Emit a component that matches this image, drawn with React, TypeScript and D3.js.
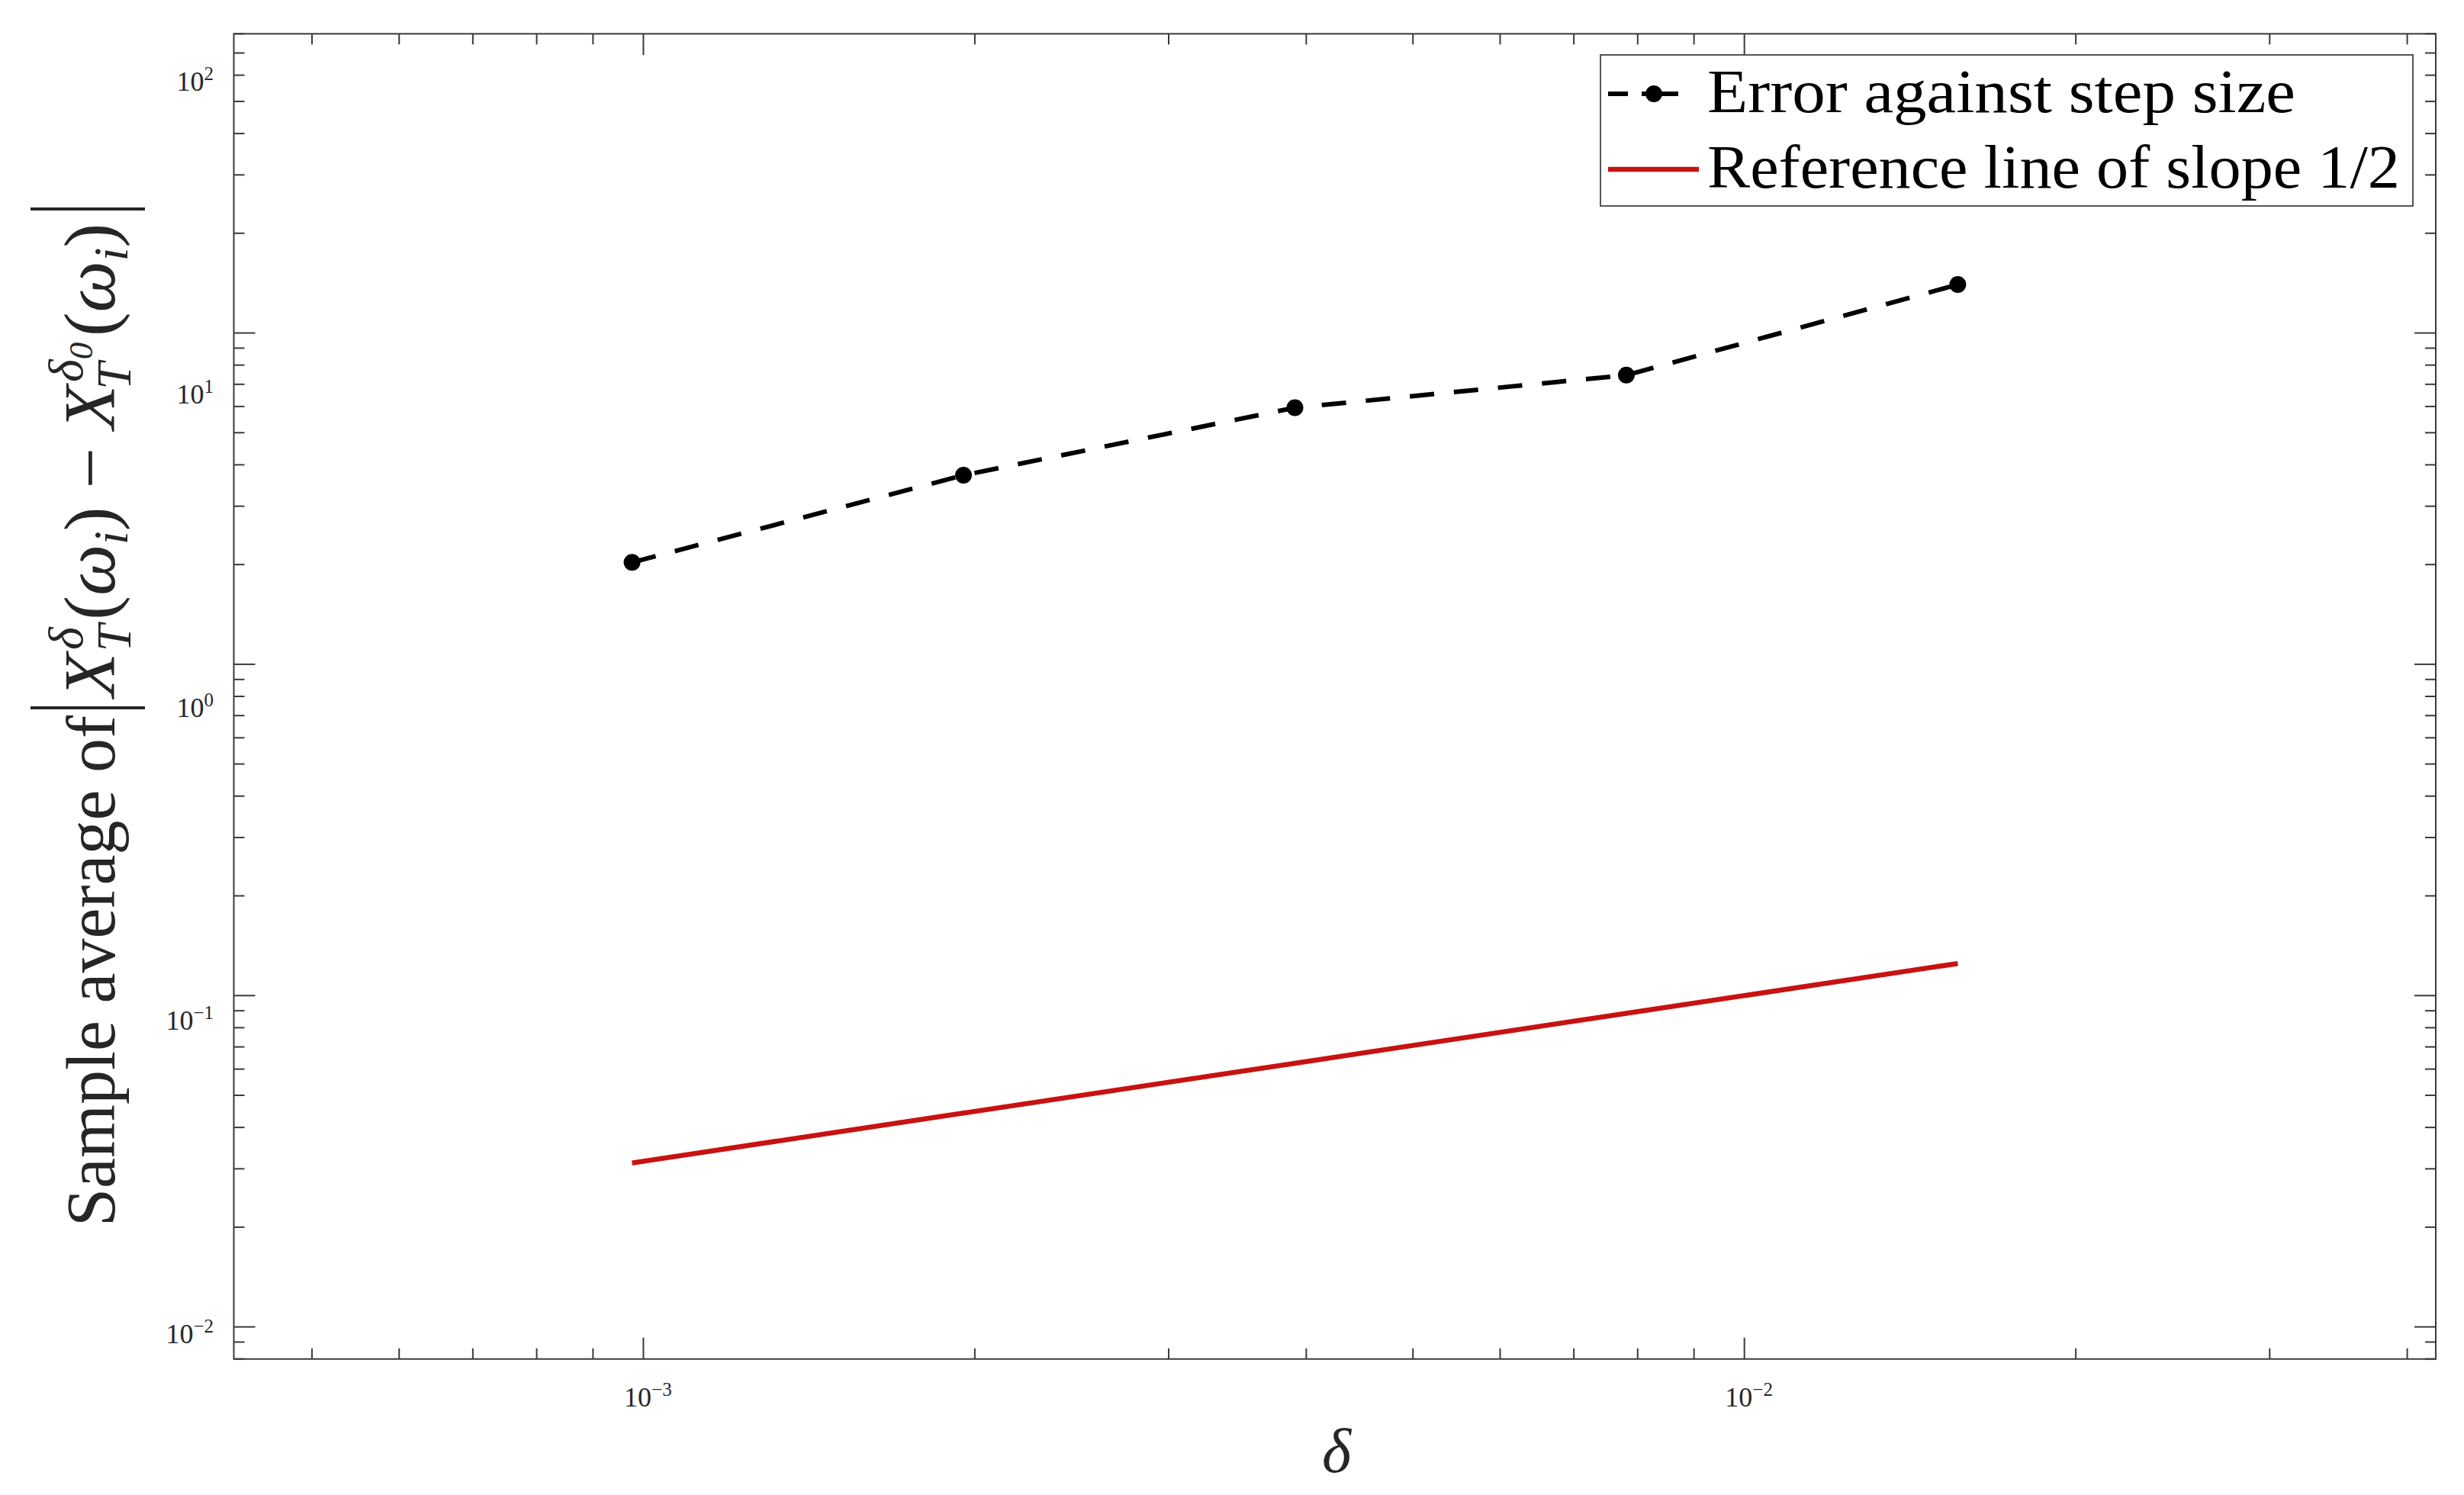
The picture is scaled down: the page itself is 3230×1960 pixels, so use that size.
import React from "react";
import * as d3 from "d3";

// ---- data ----
const stepSizes = [0.0009765625, 0.001953125, 0.00390625, 0.0078125, 0.015625];
const errorValues = [2.03, 3.72, 5.95, 7.46, 14.0];
const referenceValues = [0.03125, 0.0442, 0.0625, 0.0884, 0.125];
const xTickExponents = [-3, -2];
const yTickExponents = [-2, -1, 0, 1, 2];
const legendLabels = ["Error against step size", "Reference line of slope 1/2"];
const xDomain = [4.246e-4, 4.246e-2];
const yDomain = [0.008, 80];

// ---- layout ----
const W = 3230;
const H = 1960;
const M = { left: 306.5, right: 3193, top: 44.3, bottom: 1781.7 };
const AXIS = "#3a3a3a";
const TXT = "#262626";
const RED = "#c81212";
const SERIF = "'Liberation Serif', 'DejaVu Serif', serif";

export default function App() {
  const x = d3.scaleLog().domain(xDomain).range([M.left, M.right]);
  const y = d3.scaleLog().domain(yDomain).range([M.bottom, M.top]);
  // tick-label placement scale (labels are spread slightly differently from ticks in the reference)
  const yLab = d3
    .scaleLog()
    .domain([1e-2, 1e2])
    .range([y(1e-2), y(1e-2) - 1642]);

  const isMajor = (v: number) => Math.abs(Math.log10(v) - Math.round(Math.log10(v))) < 1e-9;
  const xt = x.ticks();
  const yt = y.ticks();

  const errLine = d3
    .line<number>()
    .x((_, i) => x(stepSizes[i]))
    .y((d) => y(d));
  const refLine = d3
    .line<number>()
    .x((_, i) => x(stepSizes[i]))
    .y((d) => y(d));

  const majorLen = 28;
  const minorLen = 14;

  const legX = 2098;
  const legY = 72;
  const legW = 1065;
  const legH = 198;
  const row1 = 123;
  const row2 = 222;

  const mf = 95; // math font size
  const ms = 64; // math script size

  return (
    <svg
      width={W}
      height={H}
      style={{ position: "absolute", left: 0, top: 0, background: "#fff" }}
      fontFamily={SERIF}
    >
      <rect x={0} y={0} width={W} height={H} fill="#fff" />

      {/* ticks */}
      <g stroke={AXIS} strokeWidth={2}>
        {xt.map((t, i) => {
          const L = isMajor(t) ? majorLen : minorLen;
          const px = x(t);
          return (
            <g key={"xt" + i}>
              <line x1={px} x2={px} y1={M.bottom} y2={M.bottom - L} />
              <line x1={px} x2={px} y1={M.top} y2={M.top + L} />
            </g>
          );
        })}
        {yt.map((t, i) => {
          const L = isMajor(t) ? majorLen : minorLen;
          const py = y(t);
          return (
            <g key={"yt" + i}>
              <line x1={M.left} x2={M.left + L} y1={py} y2={py} />
              <line x1={M.right} x2={M.right - L} y1={py} y2={py} />
            </g>
          );
        })}
      </g>

      {/* axes box */}
      <rect
        x={M.left}
        y={M.top}
        width={M.right - M.left}
        height={M.bottom - M.top}
        fill="none"
        stroke={AXIS}
        strokeWidth={2}
      />

      {/* x tick labels */}
      {xTickExponents.map((e) => (
        <text
          key={"xl" + e}
          x={x(Math.pow(10, e)) + 6}
          y={1844}
          fontSize={36}
          fill={TXT}
          textAnchor="middle"
        >
          10
          <tspan fontSize={25} dy={-14}>
            {"\u2212" + Math.abs(e)}
          </tspan>
        </text>
      ))}

      {/* y tick labels */}
      {yTickExponents.map((e) => (
        <text
          key={"yl" + e}
          x={280}
          y={yLab(Math.pow(10, e)) + 21}
          fontSize={36}
          fill={TXT}
          textAnchor="end"
        >
          10
          <tspan fontSize={25} dy={-14}>
            {e < 0 ? "\u2212" + Math.abs(e) : String(e)}
          </tspan>
        </text>
      ))}

      {/* reference line */}
      <path d={refLine(referenceValues) || ""} fill="none" stroke={RED} strokeWidth={6.5} />

      {/* error line */}
      <path
        d={errLine(errorValues) || ""}
        fill="none"
        stroke="#000"
        strokeWidth={6}
        strokeDasharray="32 26"
      />
      {errorValues.map((v, i) => (
        <circle key={"p" + i} cx={x(stepSizes[i])} cy={y(v)} r={11} fill="#000" />
      ))}

      {/* x label */}
      <text x={1752} y={1930} fontSize={82} fontStyle="italic" textAnchor="middle" fill={TXT}>
        δ
      </text>

      {/* y label */}
      <g transform="translate(150,1608) rotate(-90)" fill={TXT}>
        <text x={0} y={0} fontSize={90} textLength={670} lengthAdjust="spacingAndGlyphs">
          Sample average of
        </text>
        <line x1={680} x2={680} y1={-110} y2={40} stroke={TXT} strokeWidth={4} />
        <text x={694} y={0} fontSize={mf} fontStyle="italic">
          X
          <tspan fontSize={ms} dy={-42} dx={4}>δ</tspan>
          <tspan fontSize={ms} dy={63} dx={-32}>T</tspan>
          <tspan fontStyle="normal" dy={-21} dx={6}>(</tspan>
          <tspan>ω</tspan>
          <tspan fontSize={ms} dy={17}>i</tspan>
          <tspan fontStyle="normal" dy={-17}>)</tspan>
          <tspan fontStyle="normal" dx={24}>{"\u2212"}</tspan>
          <tspan dx={24}>X</tspan>
          <tspan fontSize={ms} dy={-42} dx={4}>δ</tspan>
          <tspan fontSize={45} dy={13}>0</tspan>
          <tspan fontSize={ms} dy={50} dx={-62}>T</tspan>
          <tspan fontStyle="normal" dy={-21} dx={34}>(</tspan>
          <tspan>ω</tspan>
          <tspan fontSize={ms} dy={17}>i</tspan>
          <tspan fontStyle="normal" dy={-17}>)</tspan>
        </text>
        <line x1={1334} x2={1334} y1={-110} y2={40} stroke={TXT} strokeWidth={4} />
      </g>

      {/* legend */}
      <rect x={legX} y={legY} width={legW} height={legH} fill="#fff" stroke="#555" strokeWidth={2} />
      <line
        x1={2108}
        x2={2200}
        y1={row1}
        y2={row1}
        stroke="#000"
        strokeWidth={6}
        strokeDasharray="26 18 48 20"
      />
      <circle cx={2168} cy={row1} r={11} fill="#000" />
      <text x={2238} y={row1 + 24} fontSize={80} fill="#000" textLength={771} lengthAdjust="spacingAndGlyphs">
        {legendLabels[0]}
      </text>
      <line x1={2108} x2={2227} y1={row2} y2={row2} stroke={RED} strokeWidth={6.5} />
      <text x={2238} y={row2 + 24} fontSize={80} fill="#000" textLength={908} lengthAdjust="spacingAndGlyphs">
        {legendLabels[1]}
      </text>
    </svg>
  );
}
